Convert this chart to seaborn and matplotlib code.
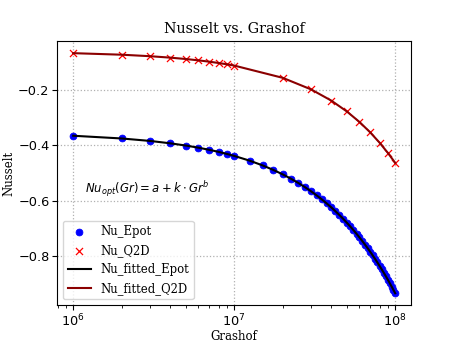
import matplotlib
matplotlib.use("Agg")
import matplotlib.pyplot as plt
import seaborn as sns
import pandas as pd

# Grashof numbers
gr_epot = [1e6, 2e6, 3e6, 4e6, 5e6, 6e6, 7e6, 8e6, 9e6, 1e7,
           1.25e7, 1.5e7, 1.75e7, 2e7, 2.25e7, 2.5e7, 2.75e7, 3e7, 3.25e7, 3.5e7,
           3.75e7, 4e7, 4.25e7, 4.5e7, 4.75e7, 5e7, 5.25e7, 5.5e7, 5.75e7, 6e7,
           6.25e7, 6.5e7, 6.75e7, 7e7, 7.25e7, 7.5e7, 7.75e7, 8e7, 8.25e7, 8.5e7,
           8.75e7, 9e7, 9.25e7, 9.5e7, 9.75e7, 1e8]
nu_epot = [-0.3650, -0.3749, -0.3838, -0.3924, -0.4005, -0.4084, -0.4160, -0.4235, -0.4309, -0.4381,
           -0.4556, -0.4725, -0.4890, -0.5050, -0.5208, -0.5362, -0.5514, -0.5664, -0.5812, -0.5958,
           -0.6102, -0.6244, -0.6385, -0.6525, -0.6663, -0.6800, -0.6936, -0.7071, -0.7205, -0.7338,
           -0.7471, -0.7602, -0.7732, -0.7861, -0.7990, -0.8118, -0.8246, -0.8372, -0.8498, -0.8624,
           -0.8748, -0.8872, -0.8996, -0.9119, -0.9242, -0.9363]

gr_q2d = [1e6, 2e6, 3e6, 4e6, 5e6, 6e6, 7e6, 8e6, 9e6, 1e7,
          2e7, 3e7, 4e7, 5e7, 6e7, 7e7, 8e7, 9e7, 1e8]
nu_q2d = [-0.0655, -0.0711, -0.0765, -0.0817, -0.0867, -0.0916, -0.0964, -0.1012, -0.1059, -0.1105,
          -0.1549, -0.1968, -0.2372, -0.2766, -0.3151, -0.3530, -0.3903, -0.4271, -0.4633]

nu_fit_epot = list(nu_epot)
nu_fit_q2d = list(nu_q2d)

df_e = pd.DataFrame({"Gr": gr_epot, "Nu": nu_epot, "Fit": nu_fit_epot})
df_q = pd.DataFrame({"Gr": gr_q2d, "Nu": nu_q2d, "Fit": nu_fit_q2d})

DPI = 100
fig, ax = plt.subplots(figsize=(4.57, 3.43), dpi=DPI)

sns.scatterplot(data=df_e, x="Gr", y="Nu", ax=ax, color="blue", marker="o",
                s=24, edgecolor="blue", linewidth=0.6, label="Nu_Epot", zorder=2)
sns.scatterplot(data=df_q, x="Gr", y="Nu", ax=ax, color="red", marker="x",
                s=26, linewidth=0.9, label="Nu_Q2D", zorder=2)
sns.lineplot(data=df_e, x="Gr", y="Fit", ax=ax, color="black", linewidth=1.5,
             label="Nu_fitted_Epot", zorder=3)
sns.lineplot(data=df_q, x="Gr", y="Fit", ax=ax, color="darkred", linewidth=1.5,
             label="Nu_fitted_Q2D", zorder=3)

ax.set_xscale("log")
ax.grid(True, linestyle=":", color="#b0b0b0", linewidth=0.9)
ax.set_axisbelow(True)
ax.tick_params(labelsize=9.3, pad=2)

serif = ["DejaVu Serif"]
ax.set_title("Nusselt vs. Grashof", fontsize=10.3, family=serif)
ax.set_xlabel("Grashof", fontsize=8.5, family=serif, labelpad=0)
ax.set_ylabel("Nusselt", fontsize=8.5, family=serif, labelpad=2)
ax.text(0.08, 0.44, r"$Nu_{opt}(Gr) = a + k \cdot Gr^b$", transform=ax.transAxes,
        fontsize=8.4, va="center", ha="left")

ax.legend(loc="lower left", prop={"family": serif, "size": 8.4})

fig.savefig("out.png", dpi=DPI)
